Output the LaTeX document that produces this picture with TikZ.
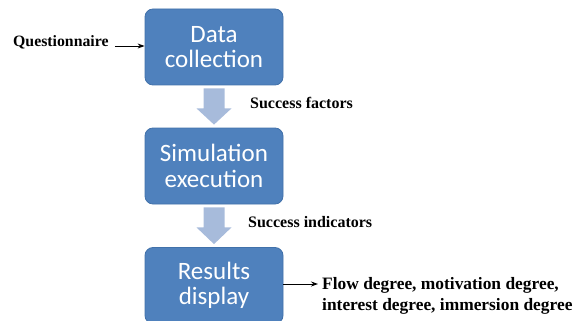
\documentclass[tikz,border=0pt]{standalone}
\usepackage{fontspec}
\setmainfont{Liberation Serif}
\newfontfamily\boxfont{Carlito}
\usetikzlibrary{calc,arrows.meta}
\definecolor{boxblue}{RGB}{79,129,189}
\definecolor{boxedge}{RGB}{65,113,170}
\definecolor{arrowblue}{RGB}{167,187,219}
\tikzset{
  stagebox/.style={draw=boxedge, line width=0.8pt, fill=boxblue, rounded corners=8pt,
    minimum width=138pt, minimum height=76pt, align=center, text=white, inner sep=0pt,
    font=\boxfont\fontsize{25}{25.5}\selectfont},
  lbl/.style={font=\bfseries\fontsize{16}{21}\selectfont, inner sep=0pt, align=left},
  thin arrow/.style={-{Stealth[length=7pt,width=5pt]}, line width=0.9pt, black},
  blockarrow/.style={fill=arrowblue}
}
\begin{document}
\begin{tikzpicture}[x=1pt,y=-1pt]
\useasboundingbox (0,0) rectangle (584,321);
\node[stagebox] (d) at (214,47) {Data\\collection};
\node[stagebox] (s) at (214,166) {Simulation\\execution};
\node[stagebox] (r) at (214,285.5) {Results\\display};
% block arrows
\foreach \a/\b in {d/s, s/r}{
  \fill[blockarrow] ($(\a.south)+(-10.5,3)$) -- ($(\a.south)+(10.5,3)$) -- ($(\a.south)+(10.5,23)$)
    -- ($(\a.south)+(17.5,23)$) -- ($(\b.north)+(0,-3)$) -- ($(\a.south)+(-17.5,23)$)
    -- ($(\a.south)+(-10.5,23)$) -- cycle;
}
\node[lbl, anchor=west, font=\bfseries\fontsize{15.8}{21}\selectfont] (q) at (13,42) {Questionnaire};
\coordinate (qa) at ($(d.west |- q.east)+(0,4)$);
\draw[thin arrow] ($(q.east)+(6,4)$) -- (qa);
\node[lbl, anchor=west] (sf) at (250,103) {Success factors};
\node[lbl, anchor=west] (si) at (248,222) {Success indicators};
\node[lbl, anchor=west, font=\bfseries\fontsize{17.4}{21}\selectfont] (out) at (322,296) {Flow degree, motivation degree,\\interest degree, immersion degree};
\coordinate (ra) at ($(out.west)+(-4,-12)$);
\draw[thin arrow] (r.east |- ra) -- (ra);
\end{tikzpicture}
\end{document}
